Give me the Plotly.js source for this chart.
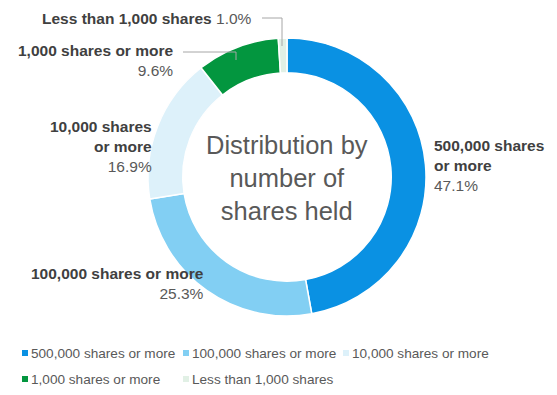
<!DOCTYPE html>
<html><head><meta charset="utf-8">
<script src="https://cdn.plot.ly/plotly-3.0.1.min.js"></script>
<style>html,body{margin:0;padding:0;background:#fff}#chart{width:557px;height:395px}</style>
</head><body><div id="chart"></div>
<script>
const categories = ["500,000 shares or more","100,000 shares or more","10,000 shares or more","1,000 shares or more","Less than 1,000 shares"];
const shares = [47.1, 25.3, 16.9, 9.6, 1.0];
const colors = ["#0A91E3","#82CFF3","#DDF1FA","#03963F","#E1F0E5"];
const centerTitle = "Distribution by<br>number of<br>shares held";

const W = 557, H = 395;
const px = x => x / W, py = y => 1 - y / H;
const FONT = "Liberation Sans, Arial, sans-serif";
const pct = v => v.toFixed(1) + "%";

function lab(name, v, sep){ return "<b>" + name + "</b>" + sep + "<span style='color:#595959'>" + pct(v) + "</span>"; }
const LF = {family:FONT, size:15.5, color:"#404040"};

const annotations = [
  {x: px(287), y: py(178), text: centerTitle, showarrow:false, xanchor:"center", yanchor:"middle",
   font:{family:FONT, size:25.5, color:"#595959"}, align:"center"},
  {x: px(254), y: py(18), text: "<b>" + categories[4] + "</b> <span style='color:#595959'>"+pct(shares[4])+"</span>", showarrow:false, xanchor:"right", yanchor:"middle", align:"right", font:LF},
  {x: px(175), y: py(60), text: lab("1,000 shares or more", shares[3], "<br>"), showarrow:false, xanchor:"right", yanchor:"middle", align:"right", font:LF},
  {x: px(154), y: py(146), text: lab("10,000 shares<br>or more", shares[2], "<br>"), showarrow:false, xanchor:"right", yanchor:"middle", align:"right", font:LF},
  {x: px(432), y: py(165), text: lab("500,000 shares<br>or more", shares[0], "<br>"), showarrow:false, xanchor:"left", yanchor:"middle", align:"left", font:LF},
  {x: px(206), y: py(283), text: lab("100,000 shares or more", shares[1], "<br>"), showarrow:false, xanchor:"right", yanchor:"middle", align:"right", font:LF}
];

const lineStyle = {color:"#A6A6A6", width:1};
const shapes = [
  {type:"path", xref:"paper", yref:"paper", path:`M ${px(262)} ${py(18)} L ${px(282)} ${py(18)} L ${px(282)} ${py(46)}`, line:lineStyle},
  {type:"path", xref:"paper", yref:"paper", path:`M ${px(183)} ${py(52)} L ${px(236)} ${py(52)} L ${px(236)} ${py(60)}`, line:lineStyle}
];

// custom legend (3 columns, 2 rows)
const legCols = [22, 183, 343], legRows = [353, 379];
categories.forEach((c, i) => {
  const cx = legCols[i % 3], cy = legRows[Math.floor(i / 3)];
  shapes.push({type:"rect", xref:"paper", yref:"paper", x0:px(cx), x1:px(cx+6), y0:py(cy+3), y1:py(cy-3),
    fillcolor: colors[i], line:{width:0}});
  annotations.push({x:px(cx+7), y:py(cy), text:c, showarrow:false, xanchor:"left", yanchor:"middle",
    font:{family:FONT, size:13.6, color:"#595959"}});
});

const data = [{
  type:"pie", labels: categories, values: shares, sort:false, direction:"clockwise", rotation:0,
  hole:0.75, marker:{colors: colors, line:{color:"#ffffff", width:1.5}},
  textinfo:"none", hoverinfo:"label+percent",
  domain:{x:[px(148), px(426)], y:[py(316), py(38)]}
}];

const layout = {
  width:W, height:H, margin:{l:0,r:0,t:0,b:0}, paper_bgcolor:"#fff",
  showlegend:false,
  annotations: annotations, shapes: shapes
};
Plotly.newPlot("chart", data, layout, {displayModeBar:false, staticPlot:true});
</script></body></html>
